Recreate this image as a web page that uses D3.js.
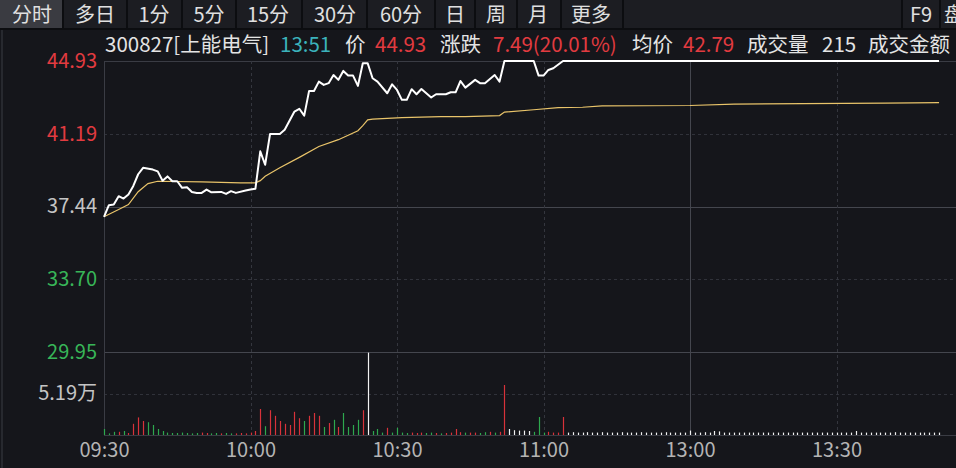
<!DOCTYPE html>
<html><head><meta charset="utf-8">
<script src="https://cdn.jsdelivr.net/npm/d3@7/dist/d3.min.js"></script>
<style>
html,body{margin:0;padding:0;background:#15161b;overflow:hidden;}
svg{display:block;}
text{font-family:"Noto Sans CJK SC","Noto Sans",sans-serif;}
</style></head>
<body>
<svg id="c" width="956" height="468"></svg>
<script>
// ---------- data ----------
const tabs = ['分时','多日','1分','5分','15分','30分','60分','日','周','月','更多'];
const timeLabels = ['09:30','10:00','10:30','11:00','13:00','13:30'];
const timeMinutes = [0,30,60,90,120,150];
const priceTicks = [44.93,41.19,37.44,33.70,29.95];
const prevClose = 37.44;
const volTick = 5.19;
const volMax = 10.38;
// price line vertices [minute, price]
const priceMin = [0,1,2,3,4,5,6,7,8,10,11,12,13,14,15,16,17,18,19,20,21,22,24,25,26,27,29,30,31,32,33,34,36,37,39,40,41,42,43,44,45,46,47,48,49,50,51,52,53,54,55,56,58,59,60,61,62,63,64,65,67,68,70,71,72,73,74,76,77,78,80,81,82,88,89,90,91,92,94,171];
const priceVal = [36.91,37.51,37.54,37.97,37.85,38.06,38.5,39.1,39.43,39.34,39.25,38.77,38.99,38.74,38.74,38.40,38.43,38.19,38.14,38.14,38.31,38.17,38.19,38.09,38.23,38.14,38.26,38.31,38.35,40.28,39.59,41.17,41.17,41.39,42.33,42.47,42.12,43.39,43.39,43.87,43.70,43.79,44.21,43.96,44.42,44.18,44.18,43.65,44.81,44.81,44.04,43.87,43.27,43.73,43.44,42.93,42.93,43.48,43.22,43.49,43.05,43.22,43.22,43.32,43.32,43.90,43.56,43.96,43.79,43.79,44.21,43.87,44.93,44.93,44.18,44.18,44.47,44.56,44.93,44.93];
// average price vertices
const avgMin = [0,3,5,7,9,11,20,28,31,32,33,36,40,44,48,52,53,54,55,61,69,74,81,82,88,93,98,102,120,129,160,171];
const avgVal = [36.91,37.29,37.54,38.2,38.62,38.74,38.71,38.66,38.66,38.77,39.0,39.43,39.97,40.53,40.88,41.34,41.6,41.90,41.94,42.02,42.07,42.07,42.12,42.30,42.42,42.53,42.55,42.62,42.64,42.71,42.76,42.79];
// volume per minute (万), minute 0..171
const volume = [
0.75,0.2,0.4,0.4,0.5,0.25,1.4,2.2,1.75,1.6,
1.25,0.75,0.5,0.3,0.25,0.25,0.3,0.25,0.2,0.25,
0.3,0.25,0.2,0.25,0.2,0.25,0.2,0.2,0.25,0.2,
0.3,0.5,3.25,1.1,3.1,2.4,1.75,1.4,1.25,2.9,
2.1,1.75,2.4,2.75,2.4,1.0,1.5,1.9,1.0,2.75,
1.0,1.25,1.9,3.1,10.3,0.5,0.75,0.3,0.9,0.3,
0.9,0.3,0.25,0.3,0.25,0.3,0.25,0.3,0.25,0.2,
0.25,0.3,0.75,0.35,0.3,0.3,0.3,0.25,0.35,0.4,
0.3,0.4,6.25,0.75,0.6,0.55,0.55,0.5,0.4,2.25,
0.3,0.4,0.3,0.3,2.25,0.3,0.35,0.3,0.3,0.35,
0.3,0.3,0.35,0.3,0.3,0.3,0.35,0.3,0.3,0.3,
0.35,0.3,0.3,0.3,0.3,0.35,0.3,0.3,0.3,0.3,
0.55,0.3,0.3,0.35,0.3,0.5,0.45,0.3,0.3,0.3,
0.3,0.3,0.3,0.3,0.3,0.3,0.3,0.3,0.3,0.3,
0.3,0.3,0.3,0.3,0.3,0.3,0.3,0.3,0.3,0.3,
0.3,0.3,0.3,0.3,0.5,0.3,0.3,0.3,0.3,0.3,
0.3,0.3,0.35,0.3,0.3,0.3,0.3,0.3,0.3,0.3,
0.3,0.3];
// direction: u=up(red), d=down(green), f=flat(white)
const volDir = (
"ddduduuuud"+
"dddddddddd"+
"uuddudduuu"+
"uuuduuuuuu"+
"uduuududud"+
"dddufdddud"+
"ddduuuddud"+
"uuuuduuddu"+
"duufffffdd"+
"duuuufffff"+
"ffffffffff"+
"ffffffffff"+
"ffffffffff"+
"ffffffffff"+
"ffffffffff"+
"ffffffffff"+
"ffffffffff"+
"ff").split('');

// ---------- drawing ----------
const svg = d3.select('#c');
const W = 956, H = 468;
const C = {bg:'#15161b', bar:'#1c1d22', sel:'#3a3b41', div:'#0c0d10',
  red:'#e23b40', green:'#38b558', grid:'#3a3c44', txt:'#e4e4e4', gray:'#b4b4b4', teal:'#3bb2bb', avg:'#e9c46a'};

svg.append('rect').attr('width',W).attr('height',H).attr('fill',C.bg);

// toolbar
svg.append('rect').attr('x',0).attr('y',0).attr('width',W).attr('height',28).attr('fill',C.bar);
const tabCenters = [32,95,154,209,268,335,401,455,496,538,591];
const dividers = [63,127,182,236,302,367,435,475,517,561,623,902,940];
svg.append('rect').attr('x',0).attr('y',0).attr('width',63).attr('height',28).attr('fill',C.sel);
svg.selectAll('.dv').data(dividers).enter().append('rect')
  .attr('x',d=>d-1).attr('y',0).attr('width',2).attr('height',28).attr('fill',C.div);
svg.selectAll('.tab').data(tabs).enter().append('text')
  .attr('x',(d,i)=>tabCenters[i]).attr('y',15).attr('dy','0.36em')
  .attr('text-anchor','middle').attr('font-size',20).attr('fill','#e0e0e0').text(d=>d);
svg.append('text').attr('x',921).attr('y',15).attr('dy','0.36em').attr('text-anchor','middle')
  .attr('font-size',20).attr('fill','#e0e0e0').text('F9');
svg.append('text').attr('x',944).attr('y',15).attr('dy','0.36em').attr('text-anchor','start')
  .attr('font-size',20).attr('fill','#e0e0e0').text('盘');
svg.append('rect').attr('x',0).attr('y',28).attr('width',W).attr('height',2).attr('fill',C.div);

// left border
svg.append('line').attr('x1',2).attr('x2',2).attr('y1',30).attr('y2',H).attr('stroke','#2e3037').attr('stroke-width',1.5);

// header info
const hdr = [
  {x:105,t:'300827[上能电气]',c:C.txt},
  {x:280,t:'13:51',c:C.teal},
  {x:345,t:'价',c:C.txt},
  {x:375,t:'44.93',c:C.red},
  {x:440,t:'涨跌',c:C.txt},
  {x:493,t:'7.49(20.01%)',c:C.red},
  {x:632,t:'均价',c:C.txt},
  {x:683,t:'42.79',c:C.red},
  {x:747,t:'成交量',c:C.txt},
  {x:822,t:'215',c:C.txt},
  {x:868,t:'成交金额',c:C.txt}
];
svg.selectAll('.hd').data(hdr).enter().append('text')
  .attr('x',d=>d.x).attr('y',45).attr('dy','0.36em').attr('font-size',20.5)
  .attr('fill',d=>d.c).text(d=>d.t);

// scales
const x = d3.scaleLinear().domain([0,240]).range([104,1276]);
const y = d3.scaleLinear().domain([29.95,44.93]).range([352,61]);
const yv = d3.scaleLinear().domain([0,volMax]).range([435,352]);

const g = svg.append('g');
const px = v=>Math.round(v)+0.5;
g.append('line').attr('x1',104).attr('x2',W).attr('y1',px(y(44.93))).attr('y2',px(y(44.93))).attr('stroke',C.grid);
priceTicks.slice(1).forEach(v=>{
  const solid = (v===prevClose || v===29.95);
  g.append('line').attr('x1',104).attr('x2',W).attr('y1',px(y(v))).attr('y2',px(y(v)))
    .attr('stroke', solid? '#44464e' : '#30323a').attr('stroke-dasharray', solid? null : '3,3');
});
g.append('line').attr('x1',104).attr('x2',W).attr('y1',px(yv(volTick))).attr('y2',px(yv(volTick)))
  .attr('stroke','#30323a').attr('stroke-dasharray','3,3');
g.append('line').attr('x1',104).attr('x2',W).attr('y1',px(yv(0))).attr('y2',px(yv(0))).attr('stroke',C.grid);
timeMinutes.forEach(m=>{
  const xx = px(x(m));
  if (m===0) { g.append('line').attr('x1',xx).attr('x2',xx).attr('y1',61).attr('y2',435).attr('stroke',C.grid); return; }
  const solid = m===120;
  g.append('line').attr('x1',xx).attr('x2',xx).attr('y1',61).attr('y2',435)
    .attr('stroke', solid? '#44464e':'#34363e').attr('stroke-dasharray', solid? null:'3,3');
});

// axis labels
const yAxisL = d3.axisLeft(y).tickValues(priceTicks).tickSize(0).tickPadding(7).tickFormat(d3.format('.2f'));
const ya = svg.append('g').attr('transform','translate(104,0)').call(yAxisL);
ya.select('.domain').remove();
ya.selectAll('text').attr('font-size',20).attr('font-family','"Noto Sans","DejaVu Sans",sans-serif')
  .attr('fill',d=> d>prevClose? C.red : d<prevClose? C.green : '#c4c4c4');
const yvAxis = d3.axisLeft(yv).tickValues([volTick]).tickSize(0).tickPadding(7).tickFormat(d=>d3.format('.2f')(d)+'万');
const yva = svg.append('g').attr('transform','translate(104,0)').call(yvAxis);
yva.select('.domain').remove();
yva.selectAll('text').attr('font-size',20).attr('fill','#c4c4c4').attr('font-family','"Noto Sans CJK SC",sans-serif');

const xAxis = d3.axisBottom(x).tickValues(timeMinutes).tickSize(0).tickPadding(5).tickFormat((d,i)=>timeLabels[i]);
const xa = svg.append('g').attr('transform','translate(0,438)').call(xAxis);
xa.select('.domain').remove();
xa.selectAll('text').attr('font-size',20).attr('fill','#b4b4b4').attr('font-family','"Noto Sans","DejaVu Sans",sans-serif');

// volume bars
const colorOf = d=> d==='u'? '#d8323a' : d==='d'? '#2ea84e' : '#f2f2f2';
svg.append('g').selectAll('line').data(volume).enter().append('line')
  .attr('x1',(d,i)=>px(x(i))).attr('x2',(d,i)=>px(x(i)))
  .attr('y1',yv(0)).attr('y2',d=>yv(d))
  .attr('stroke',(d,i)=>colorOf(volDir[i])).attr('stroke-width',1.2);

// avg line
const avgPts = avgMin.map((m,i)=>[m,avgVal[i]]);
svg.append('path').datum(avgPts).attr('fill','none').attr('stroke',C.avg).attr('stroke-width',1.2)
  .attr('d',d3.line().x(d=>x(d[0])).y(d=>y(d[1])));
// price line
const pPts = priceMin.map((m,i)=>[m,priceVal[i]]);
svg.append('path').datum(pPts).attr('fill','none').attr('stroke','#ffffff').attr('stroke-width',2)
  .attr('stroke-linejoin','round')
  .attr('d',d3.line().x(d=>x(d[0])).y(d=>y(d[1])));
</script>
</body></html>
